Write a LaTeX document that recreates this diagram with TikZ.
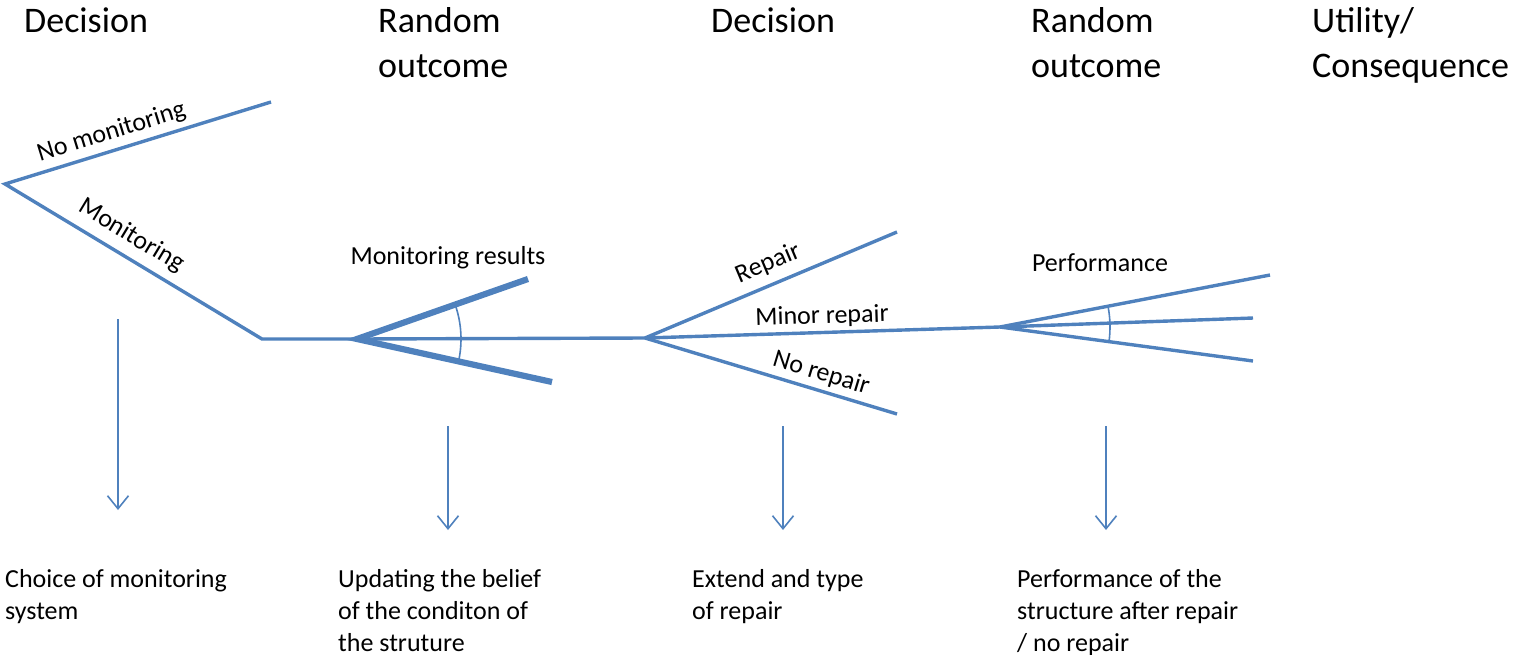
\documentclass[tikz,border=0pt]{standalone}
\usepackage{fontspec}
\setmainfont{Carlito}
\usetikzlibrary{arrows.meta}
\definecolor{obl}{HTML}{4F81BD}
\begin{document}
\begin{tikzpicture}[x=1pt,y=-1pt,
  branch/.style={draw=obl,line width=3.4pt},
  thickbranch/.style={draw=obl,line width=6.2pt},
  anglearc/.style={draw=obl,line width=1.6pt},
  down/.style={draw=obl,line width=1.6pt,-{Straight Barb[length=13pt,width=21pt,line width=1.6pt]}},
  head/.style={font=\fontsize{36}{45}\selectfont,anchor=base west,inner sep=0pt,align=left},
  lbl/.style={font=\fontsize{26}{32}\selectfont,inner sep=2pt},
  note/.style={font=\fontsize{26}{32}\selectfont,anchor=north west,inner sep=0pt,align=left}]
\useasboundingbox (0,0) rectangle (1515,654);
% headings
\node[head] (h1) at (24,32) {Decision};
\node[head] (h2) at (378,77) {Random\\outcome};
\node[head] (h3) at (711,32) {Decision};
\node[head] (h4) at (1031,77) {Random\\outcome};
\node[head] (h5) at (1312,77) {Utility/\\Consequence};
% tree points
\coordinate (root) at (5,184);
\coordinate (nm) at (271,102);
\coordinate (mk) at (262,339);
\coordinate (c1) at (357,339);
\coordinate (u1) at (528,279);
\coordinate (l1) at (552,382);
\coordinate (d2) at (645,338);
\coordinate (rp) at (897,232);
\coordinate (nr) at (897,414);
\coordinate (c2) at (1000,327);
\coordinate (p1) at (1270,275);
\coordinate (p2) at (1253,318);
\coordinate (p3) at (1253,361);
% branches
\draw[branch] (nm) -- node[lbl,sloped,above=3pt,pos=0.58]{No monitoring} (root)
  -- node[lbl,sloped,above=6pt,pos=0.45]{Monitoring} (mk) -- (c1) -- (d2)
  -- node[lbl,sloped,above=1pt,pos=0.5]{Minor repair} (c2);
\draw[thickbranch] (u1) -- (c1) -- (l1);
\draw[branch] (d2) -- node[lbl,sloped,above=6pt,pos=0.52]{Repair} (rp);
\draw[branch] (d2) -- node[lbl,sloped,above=2pt,pos=0.68]{No repair} (nr);
\draw[branch] (c2) -- (p1);
\draw[branch] (c2) -- (p2);
\draw[branch] (c2) -- (p3);
\draw[anglearc] ([shift={(-19.3:104)}]c1) arc[start angle=-19.3,end angle=12.4,radius=104];
\draw[anglearc] ([shift={(-10.9:110)}]c2) arc[start angle=-10.9,end angle=7.65,radius=110];
\node[lbl,inner sep=0pt] (mr) at (448,258) {Monitoring results};
\node[lbl,inner sep=0pt] (pf) at (1100,263) {Performance};
% arrows
\coordinate (a1s) at (118,319); \coordinate (a1e) at (118,510);
\coordinate (a2s) at (448,426); \coordinate (a2e) at (448,530);
\coordinate (a3s) at (783,426); \coordinate (a3e) at (783,530);
\coordinate (a4s) at (1106,426); \coordinate (a4e) at (1106,530);
\draw[down] (a1s) -- (a1e);
\draw[down] (a2s) -- (a2e);
\draw[down] (a3s) -- (a3e);
\draw[down] (a4s) -- (a4e);
% notes
\node[note] (n1) at (5,569) {Choice of monitoring\\system};
\node[note] (n2) at (338,569) {Updating the belief\\of the conditon of\\the struture};
\node[note] (n3) at (692,569) {Extend and type\\of repair};
\node[note] (n4) at (1017,569) {Performance of the\\structure after repair\\/ no repair};
\end{tikzpicture}
\end{document}
